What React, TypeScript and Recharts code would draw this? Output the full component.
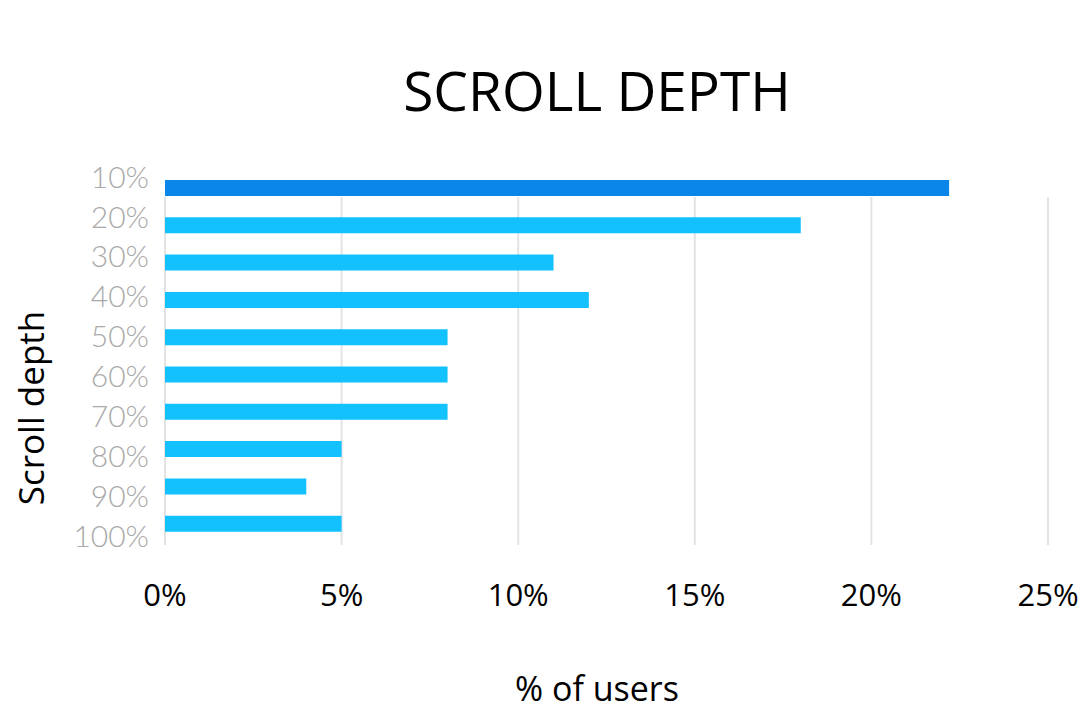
import { BarChart, Bar, XAxis, YAxis, CartesianGrid, Cell } from 'recharts';

const depths = ['10%', '20%', '30%', '40%', '50%', '60%', '70%', '80%', '90%', '100%'];
const users = [22.2, 18, 11, 12, 8, 8, 8, 5, 4, 5];
const xTicks = [0, 5, 10, 15, 20, 25];

const data = depths.map((d, i) => ({ depth: d, users: users[i] }));

export default function App() {
  return (
    <div style={{ position: 'absolute', left: 0, top: 0, width: 1084, height: 709, background: '#fff', fontFamily: '"Open Sans", sans-serif' }}>
      {/* title */}
      <div style={{ position: 'absolute', left: 0, width: 1084, top: 52, textAlign: 'center', paddingLeft: 110, boxSizing: 'border-box', fontSize: 55, color: '#000' }}>
        SCROLL DEPTH
      </div>
      {/* y axis title */}
      <div style={{ position: 'absolute', left: 30, top: 408, transform: 'translate(-50%, -50%) rotate(-90deg)', fontSize: 35, color: '#000', whiteSpace: 'nowrap' }}>
        Scroll depth
      </div>
      {/* x axis title */}
      <div style={{ position: 'absolute', left: 0, width: 1084, top: 665, textAlign: 'center', paddingLeft: 110, boxSizing: 'border-box', fontSize: 34, color: '#000' }}>
        % of users
      </div>
      <BarChart width={1084} height={709} data={data} layout="vertical" margin={{ top: 169, right: 36, bottom: 0, left: 0 }}>
        <CartesianGrid yAxisId="bars" horizontal={false} stroke="#e3e3e3" strokeWidth={2} y={197} height={348} />
        <XAxis
          type="number"
          domain={[0, 25]}
          ticks={xTicks}
          tickFormatter={(v) => `${v}%`}
          height={167}
          axisLine={false}
          tickLine={false}
          tickSize={0}
          tickMargin={42}
          interval={0}
          tick={{ fill: '#000', fontSize: 31, fontFamily: '"Open Sans", sans-serif' }}
        />
        <YAxis yAxisId="bars" type="category" dataKey="depth" hide width={0} />
        <YAxis
          yAxisId="labels"
          type="category"
          dataKey="depth"
          width={165}
          padding={{ top: -12, bottom: -14 }}
          axisLine={false}
          tickLine={false}
          tickSize={0}
          tickMargin={16}
          interval={0}
          tick={{ fill: '#a9a9a9', fontSize: 30, fontFamily: 'Lato, sans-serif', fontWeight: 300 }}
        />
        <Bar yAxisId="bars" dataKey="users" barSize={16} isAnimationActive={false}>
          {data.map((_, i) => (
            <Cell key={i} fill={i === 0 ? '#0a86ea' : '#13c1ff'} />
          ))}
        </Bar>
      </BarChart>
    </div>
  );
}
